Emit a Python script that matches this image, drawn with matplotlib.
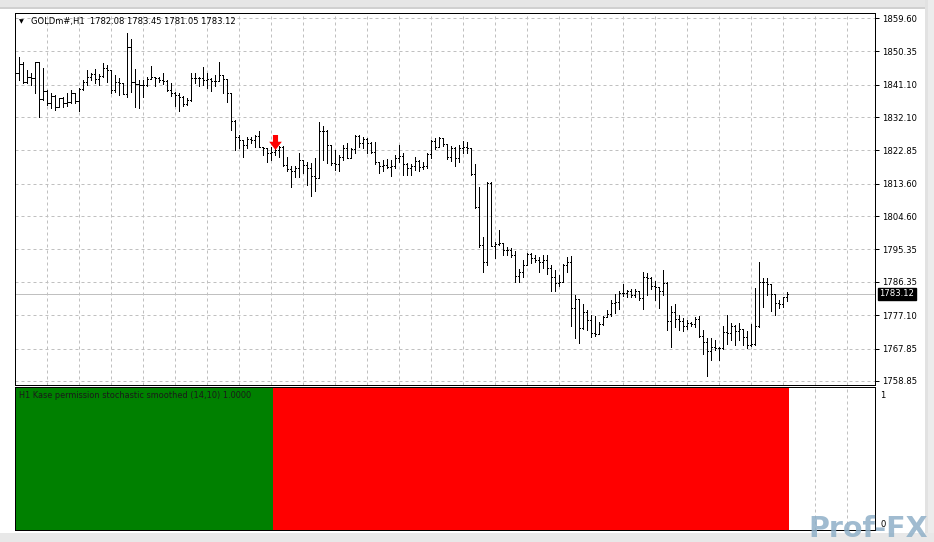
import numpy as np
import matplotlib
matplotlib.use("Agg")
import matplotlib.pyplot as plt
from matplotlib.path import Path


###############################################################################
#                                    DATA                                     #
###############################################################################
symbol_title = "GOLDm#,H1  1782.08 1783.45 1781.05 1783.12"
indicator_title = "H1 Kase permission stochastic smoothed (14,10) 1.0000"

opens = [
    1842.0, 1844.3, 1846.7, 1841.7, 1843.3, 1842.9, 1847.3, 1837.0, 1839.4, 1836.1,
    1838.0, 1834.8, 1837.3, 1836.1, 1836.4, 1838.7, 1836.5, 1840.0, 1841.9, 1843.3,
    1844.1, 1842.6, 1843.5, 1845.6, 1845.2, 1839.6, 1841.7, 1841.5, 1838.5, 1851.6,
    1841.7, 1841.3, 1841.0, 1841.0, 1842.6, 1843.1, 1842.9, 1842.4, 1842.2, 1839.6,
    1838.9, 1838.2, 1837.8, 1835.7, 1836.8, 1842.9, 1842.9, 1842.9, 1842.4,
    1842.6, 1842.2, 1842.2, 1843.8, 1842.6, 1838.7, 1831.0, 1826.5, 1825.8, 1824.4,
    1826.0, 1825.8, 1826.9, 1823.9, 1823.5, 1822.1, 1822.5, 1823.0, 1823.7, 1818.8,
    1817.6, 1817.0, 1817.9, 1820.2, 1818.8, 1817.9, 1815.8, 1815.1, 1828.3, 1828.3,
    1824.4, 1819.3, 1819.1, 1821.1, 1823.5, 1820.7, 1823.2, 1826.9, 1825.0, 1826.0,
    1824.8, 1822.5, 1819.7, 1818.5, 1818.8, 1818.2, 1818.5, 1820.7, 1821.3,
    1819.2, 1818.1, 1818.6, 1819.9, 1818.3, 1818.6, 1821.8, 1825.5, 1823.9, 1826.4,
    1824.5, 1821.1, 1823.4, 1820.7, 1823.6, 1823.9, 1823.4, 1816.2, 1807.2, 1796.6,
    1791.8, 1813.7, 1796.4, 1796.8, 1797.1, 1795.2, 1795.2, 1793.8, 1788.1, 1789.2,
    1791.1, 1794.0, 1792.9, 1792.4, 1792.0, 1792.4, 1790.1, 1787.8, 1786.0, 1786.3, 1791.1,
    1792.0, 1779.0, 1781.5, 1773.5, 1778.1, 1775.8, 1772.1, 1771.9, 1774.7, 1776.5,
    1777.5, 1780.6, 1780.9, 1783.4, 1783.4, 1783.7, 1782.7, 1783.7, 1781.8, 1787.8,
    1787.4, 1785.2, 1784.9, 1783.7, 1786.0, 1775.6, 1778.1, 1776.0, 1775.6, 1774.1,
    1775.0, 1774.7, 1776.0, 1771.4, 1769.8, 1767.3, 1768.4, 1768.0, 1768.0, 1772.5,
    1772.3, 1774.0, 1772.8, 1773.3, 1771.2, 1768.9, 1769.0, 1774.0, 1786.4, 1786.2,
    1785.7, 1782.9, 1780.4, 1780.1, 1782.08,
]
highs = [
    1845.2, 1848.7, 1847.5, 1845.2, 1844.3, 1847.3, 1847.3, 1845.6, 1839.5, 1838.7,
    1838.2, 1837.3, 1837.8, 1838.7, 1839.6, 1838.8, 1840.1, 1842.4, 1845.2, 1844.3,
    1845.4, 1844.1, 1847.0, 1846.6, 1845.3, 1843.8, 1842.9, 1841.5, 1855.3, 1853.7,
    1845.4, 1842.4, 1842.4, 1843.3, 1846.3, 1843.3, 1843.1, 1844.3, 1842.4, 1841.5,
    1839.2, 1838.7, 1838.0, 1837.3, 1844.3, 1844.3, 1843.3, 1846.1, 1844.4,
    1842.9, 1843.8, 1847.5, 1843.8, 1842.6, 1838.9, 1831.2, 1827.1, 1825.8, 1826.5,
    1826.7, 1827.1, 1828.1, 1823.9, 1823.6, 1823.9, 1823.5, 1824.1, 1824.1, 1821.1,
    1818.4, 1818.4, 1822.0, 1820.2, 1819.5, 1819.3, 1820.7, 1830.8, 1829.5, 1828.4,
    1824.4, 1823.0, 1821.6, 1824.4, 1824.8, 1823.5, 1827.1, 1827.1, 1826.5, 1826.2,
    1825.3, 1825.3, 1819.7, 1820.2, 1820.4, 1820.2, 1821.6, 1824.4, 1822.0,
    1819.3, 1819.0, 1820.9, 1820.2, 1819.5, 1822.0, 1825.7, 1826.4, 1826.7, 1826.4,
    1824.5, 1824.2, 1823.9, 1824.4, 1825.5, 1825.3, 1823.6, 1819.0, 1812.8, 1798.9,
    1814.2, 1814.2, 1797.5, 1800.8, 1797.2, 1796.1, 1795.7, 1794.8, 1789.9, 1792.4,
    1794.3, 1794.3, 1793.7, 1793.4, 1793.7, 1793.8, 1791.1, 1789.7, 1788.3, 1791.2, 1793.4,
    1793.6, 1782.7, 1781.6, 1780.2, 1778.6, 1777.2, 1776.9, 1775.3, 1776.9, 1778.6,
    1781.2, 1783.0, 1783.7, 1785.8, 1784.1, 1784.3, 1784.3, 1783.7, 1789.0, 1788.7,
    1787.8, 1786.7, 1785.0, 1789.7, 1786.2, 1779.7, 1780.2, 1777.2, 1776.3, 1775.8,
    1775.3, 1776.7, 1776.9, 1773.0, 1770.7, 1770.7, 1770.2, 1768.2, 1774.0, 1777.2,
    1774.9, 1774.4, 1774.9, 1773.3, 1772.6, 1774.6, 1784.6, 1791.8, 1787.4, 1787.5,
    1785.8, 1782.9, 1781.3, 1782.3, 1783.45,
]
lows = [
    1838.7, 1842.4, 1841.5, 1841.5, 1841.0, 1838.9, 1832.2, 1836.8, 1835.5, 1834.5,
    1834.1, 1834.8, 1834.8, 1835.2, 1836.1, 1836.1, 1833.9, 1839.6, 1841.0, 1842.4,
    1841.5, 1841.0, 1843.3, 1841.7, 1838.9, 1839.2, 1838.2, 1838.5, 1837.8, 1839.2,
    1835.0, 1834.5, 1837.8, 1840.8, 1842.6, 1840.6, 1841.7, 1841.3, 1839.4, 1838.0,
    1835.2, 1833.9, 1835.2, 1835.5, 1836.7, 1841.5, 1840.6, 1841.0, 1840.1,
    1839.4, 1840.7, 1842.0, 1838.9, 1836.4, 1828.5, 1823.0, 1823.5, 1820.9, 1823.5,
    1824.8, 1823.7, 1823.7, 1821.6, 1819.5, 1820.2, 1821.6, 1821.1, 1818.5, 1817.0,
    1812.6, 1815.6, 1815.4, 1816.5, 1813.3, 1810.2, 1811.7, 1815.1, 1820.2, 1819.3,
    1818.8, 1817.4, 1817.0, 1820.2, 1820.7, 1820.7, 1822.0, 1823.9, 1823.5, 1822.1,
    1822.1, 1819.1, 1816.5, 1817.0, 1817.9, 1815.8, 1817.9, 1819.5, 1816.1,
    1816.0, 1816.0, 1817.4, 1817.1, 1817.7, 1818.1, 1820.7, 1823.3, 1823.9, 1824.2,
    1820.5, 1819.9, 1818.6, 1819.5, 1822.0, 1822.0, 1816.0, 1806.8, 1796.1, 1789.2,
    1791.1, 1796.4, 1793.1, 1796.6, 1793.7, 1793.7, 1793.4, 1786.4, 1786.4, 1787.6,
    1791.0, 1791.5, 1791.8, 1789.0, 1790.3, 1788.5, 1783.7, 1783.7, 1785.3, 1786.2, 1789.2,
    1774.0, 1770.7, 1769.5, 1773.4, 1773.0, 1771.2, 1771.4, 1771.9, 1774.4, 1776.5,
    1776.9, 1777.8, 1778.8, 1782.5, 1782.1, 1782.3, 1782.3, 1781.4, 1778.8, 1782.7,
    1784.3, 1781.4, 1779.0, 1782.7, 1773.0, 1768.2, 1773.8, 1773.0, 1772.6, 1773.2,
    1774.0, 1773.8, 1771.0, 1766.4, 1760.3, 1764.7, 1767.5, 1764.7, 1767.7, 1769.1,
    1770.3, 1768.9, 1770.2, 1768.9, 1768.1, 1768.7, 1768.9, 1773.8, 1779.5, 1782.7,
    1778.3, 1777.2, 1779.0, 1779.5, 1781.05,
]
closes = [
    1844.3, 1846.7, 1841.7, 1843.3, 1842.9, 1847.3, 1837.0, 1839.4, 1836.1, 1838.0,
    1834.8, 1837.3, 1836.1, 1836.4, 1838.7, 1836.5, 1840.0, 1841.9, 1843.3, 1844.1,
    1842.6, 1843.5, 1845.6, 1845.2, 1839.6, 1841.7, 1841.5, 1838.5, 1851.6, 1841.7,
    1841.3, 1841.0, 1841.0, 1842.6, 1843.1, 1842.9, 1842.4, 1842.2, 1839.6, 1838.9,
    1838.2, 1837.8, 1835.7, 1836.8, 1842.9, 1842.9, 1842.9, 1842.4, 1842.6,
    1842.2, 1842.2, 1843.8, 1842.6, 1838.7, 1831.0, 1826.5, 1825.8, 1824.4, 1826.0,
    1825.8, 1826.9, 1823.9, 1823.5, 1822.1, 1822.5, 1823.0, 1823.7, 1818.8, 1817.6,
    1817.0, 1817.9, 1820.2, 1818.8, 1817.9, 1815.8, 1815.1, 1828.3, 1828.3, 1824.4,
    1819.3, 1819.1, 1821.1, 1823.5, 1820.7, 1823.2, 1826.9, 1825.0, 1826.0, 1824.8,
    1822.5, 1819.7, 1818.5, 1818.8, 1818.2, 1818.5, 1820.7, 1821.3, 1819.2,
    1818.1, 1818.6, 1819.9, 1818.3, 1818.6, 1821.8, 1825.5, 1823.9, 1826.4, 1824.5,
    1821.1, 1823.4, 1820.7, 1823.6, 1823.9, 1823.4, 1816.2, 1807.2, 1796.6, 1791.8,
    1813.7, 1796.4, 1796.8, 1797.1, 1795.2, 1795.2, 1793.8, 1788.1, 1789.2, 1791.1,
    1794.0, 1792.9, 1792.4, 1792.0, 1792.4, 1790.1, 1787.8, 1786.0, 1786.3, 1791.1, 1792.0,
    1779.0, 1781.5, 1773.5, 1778.1, 1775.8, 1772.1, 1771.9, 1774.7, 1776.5, 1777.5,
    1780.6, 1780.9, 1783.4, 1783.4, 1783.7, 1782.7, 1783.7, 1781.8, 1787.8, 1787.4,
    1785.2, 1784.9, 1783.7, 1786.0, 1775.6, 1778.1, 1776.0, 1775.6, 1774.1, 1775.0,
    1774.7, 1776.0, 1771.4, 1769.8, 1767.3, 1768.4, 1768.0, 1768.0, 1772.5, 1772.3,
    1774.0, 1772.8, 1773.3, 1771.2, 1768.9, 1769.0, 1774.0, 1786.4, 1786.2, 1785.7,
    1782.9, 1780.4, 1780.1, 1782.08, 1783.12,
]

# price scale labels as shown by the terminal
price_ticks = [1859.60, 1850.35, 1841.10, 1832.10, 1822.85, 1813.60,
               1804.60, 1795.35, 1786.35, 1777.10, 1767.85, 1758.85]
last_price = 1783.12

# Kase permission histogram: 1.0 on every bar, green while long, red while short
perm_values = [1.0] * 194
perm_state = ["up"] * 65 + ["down"] * 129

# sell signal arrow
arrow_bar = 65
arrow_price = 1825.2


###############################################################################
#                                   LAYOUT                                    #
###############################################################################
W, H, DPI = 934, 542, 100
PX = 72.0 / DPI          # one pixel in points
GRID = "#c0c0c0"


def px_rect(left, top, right, bottom):
    return [left / W, 1 - bottom / H, (right - left) / W, (bottom - top) / H]


def fig_band(left, top, right, bottom, color):
    # flat rectangle in pixel coordinates of the screenshot
    fig.patches.append(plt.Rectangle((left / W, 1 - bottom / H), (right - left) / W,
                                     (bottom - top) / H, transform=fig.transFigure,
                                     facecolor=color, edgecolor="none", zorder=0))


fig = plt.figure(figsize=(W / DPI, H / DPI), dpi=DPI, facecolor="white")
plt.rcParams["font.family"] = ["DejaVu Sans"]

# screenshot window borders / shadow
fig_band(0, 0, W, 7, "#e6e6e6")
fig_band(0, 7, W, 9, "#d0d0d0")
fig_band(925, 0, W, H, "#e2e2e2")
fig_band(928, 0, W, H, "#ececec")
fig_band(0, 533, W, H, "#e8e8e8")

ax = fig.add_axes(px_rect(14.7, 12.5, 875, 385))
ax2 = fig.add_axes(px_rect(14.7, 386.5, 875, 530))

n = len(closes)
x = np.arange(n)
# terminal spacing: 4 px per bar, first bar 0.6 px inside the frame
x_lo, x_hi = -0.15, (875 - 15.3) / 4

# price scale: label 1859.60 at y=18 px, 1758.85 at y=381 px
per_px = (price_ticks[0] - price_ticks[-1]) / (381 - 18)
y_top = price_ticks[0] + (18 - 12.5) * per_px
y_bot = price_ticks[-1] - (385 - 381) * per_px

###############################################################################
#                                 MAIN CHART                                  #
###############################################################################
ax.set_xlim(x_lo, x_hi)
ax.set_ylim(y_bot, y_top)

ax.vlines(x, lows, highs, color="black", lw=PX, antialiased=False, zorder=3)
ax.hlines(opens, x - 0.3, x, color="black", lw=PX, antialiased=False, zorder=3)
ax.hlines(closes, x, x + 0.3, color="black", lw=PX, antialiased=False, zorder=3)

ax.axhline(last_price, color=GRID, lw=PX, zorder=2)

# signal arrow (down)
arrow_verts = [(-0.17, 0.5), (0.17, 0.5), (0.17, 0.05), (0.42, 0.05),
               (0.0, -0.5), (-0.42, 0.05), (-0.17, 0.05), (-0.17, 0.5)]
arrow_marker = Path(arrow_verts, closed=True)
ax.plot([arrow_bar], [arrow_price], marker=arrow_marker, markersize=15 * PX,
        color="#ff0000", markeredgewidth=0, linestyle="none", zorder=4)

ax.set_xticks(np.arange(8, x_hi, 8))
ax.set_yticks(price_ticks)
ax.set_yticklabels([f"{v:.2f}" for v in price_ticks])
ax.yaxis.tick_right()
ax.tick_params(axis="x", length=0, labelbottom=False)
ax.tick_params(axis="y", direction="out", length=3, width=PX, pad=2,
               labelsize=6.1, colors="black")
ax.grid(True, color=GRID, lw=PX, linestyle=(0, (3, 3)), zorder=1)
for sp in ax.spines.values():
    sp.set_color("black")
    sp.set_linewidth(PX)

ax.annotate(f"{last_price:.2f}", xy=(1, last_price), xycoords=("axes fraction", "data"),
            xytext=(3.3, 0), textcoords="offset points", va="center", ha="left",
            fontsize=6.1, color="white",
            bbox=dict(boxstyle="square,pad=0.18", fc="black", ec="black"))

ax.text(0.005, 0.975, "\u25bc", transform=ax.transAxes, fontsize=4.5,
        va="center", ha="left", color="black")
ax.text(0.019, 0.975, symbol_title, transform=ax.transAxes, fontsize=6.05,
        va="center", ha="left", color="black")

###############################################################################
#                              INDICATOR WINDOW                               #
###############################################################################
perm_colors = ["#008000" if s == "up" else "#ff0000" for s in perm_state]
ax2.bar(x, perm_values, width=1.0, color=perm_colors, linewidth=0,
        antialiased=False, zorder=2)
ax2.set_xlim(x_lo, x_hi)
ax2.set_ylim(0, 1)
ax2.set_xticks(np.arange(8, x_hi, 8))
ax2.set_yticks([])
ax2.tick_params(axis="x", length=0, labelbottom=False)
ax2.grid(True, axis="x", color=GRID, lw=PX, linestyle=(0, (3, 3)), zorder=1)
for sp in ax2.spines.values():
    sp.set_color("black")
    sp.set_linewidth(PX)

ax2.text(0.005, 0.935, indicator_title, transform=ax2.transAxes, fontsize=5.85,
         va="center", ha="left", color="#1a1a1a", zorder=5)
ax2.text(1.006, 0.94, "1", transform=ax2.transAxes, fontsize=6.1, va="center", ha="left")
ax2.text(1.006, 0.035, "0", transform=ax2.transAxes, fontsize=6.1, va="center",
         ha="left", zorder=12)

# watermark
fig.text(808 / W, 1 - 537 / H, "Prof-FX", fontsize=20.5, fontweight="bold",
         color="#8fb0c8", alpha=0.85, ha="left", va="baseline", zorder=10)

fig.savefig("out.png", dpi=DPI, facecolor="white")
